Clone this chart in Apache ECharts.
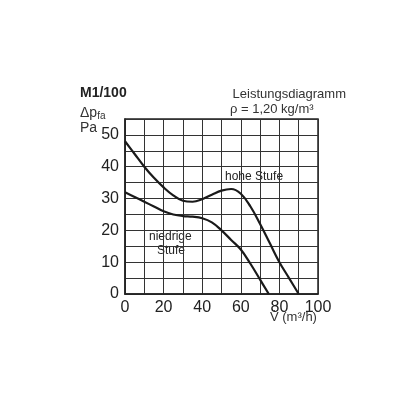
<!DOCTYPE html>
<html><head><meta charset="utf-8">
<script src="https://cdn.jsdelivr.net/npm/echarts@6/dist/echarts.min.js"></script>
<style>body{margin:0;background:#fff}#c{width:416px;height:416px}</style>
</head><body><div id="c"></div>
<script>
// Kennlinien (V in m3/h, dp in Pa)
var hoheX = [0, 5, 10, 15, 20, 25, 30, 35, 40, 45, 50, 55, 60, 65, 70, 75, 80, 85, 90];
var hoheY = [48, 44, 40, 36.5, 33.5, 31, 29.3, 29, 29.8, 31.2, 32.5, 33, 31.5, 27.5, 22, 16, 10, 5, 0];
var niedrigX = [0, 5, 10, 15, 20, 25, 30, 35, 40, 45, 50, 55, 60, 65, 70, 74.5];
var niedrigY = [32, 30.5, 29, 27.5, 26, 25, 24.5, 24.3, 23.8, 22.5, 20, 17, 14, 9.5, 4.5, 0];

function pairs(xs, ys) {
	var out = [];
	for (var i = 0; i < xs.length; i++) out.push([xs[i], ys[i]]);
	return out;
}

var font = "Liberation Sans";
var chart = echarts.init(document.getElementById("c"));
var option = {
	animation: false,
	textStyle: { fontFamily: font },
	grid: { left: 125, top: 119, width: 193, height: 175 },
	xAxis: {
		type: "value", min: 0, max: 100, interval: 10,
		axisLine: { lineStyle: { color: "#222", width: 1.5 } },
		axisTick: { show: false },
		splitLine: { lineStyle: { color: "#333", width: 1 } },
		axisLabel: { color: "#222", fontSize: 16, margin: 6,
			formatter: function (v) { return v % 20 == 0 ? v : ""; } }
	},
	yAxis: {
		type: "value", min: 0, max: 55, interval: 5,
		axisLine: { show: true, lineStyle: { color: "#222", width: 1.5 } },
		axisTick: { show: false },
		splitLine: { lineStyle: { color: "#333", width: 1 } },
		axisLabel: { color: "#222", fontSize: 16, margin: 6,
			formatter: function (v) { return (v % 10 == 0 && v <= 50) ? v : ""; } }
	},
	series: [
		{ type: "line", data: pairs(hoheX, hoheY), smooth: 0.4, symbol: "none",
			lineStyle: { color: "#1a1a1a", width: 2.2 } },
		{ type: "line", data: pairs(niedrigX, niedrigY), smooth: 0.4, symbol: "none",
			lineStyle: { color: "#1a1a1a", width: 2.2 } }
	],
	graphic: [
		{ type: "rect", shape: { x: 125, y: 119, width: 193, height: 175 },
			style: { fill: "none", stroke: "#222", lineWidth: 1.5 }, silent: true },
		{ type: "text", left: 80, top: 86, style: { text: "M1/100", font: "bold 14px " + font, fill: "#222" } },
		{ type: "text", left: 80, top: 106, style: { rich: { a: { font: "14px " + font, fill: "#333" }, s: { font: "10px " + font, fill: "#333", verticalAlign: "bottom", padding: [6, 0, 0, 0] } }, text: "{a|Δp}{s|fa}" } },
		{ type: "text", left: 80, top: 121, style: { text: "Pa", font: "14px " + font, fill: "#333" } },
		{ type: "text", right: 70, top: 88, style: { text: "Leistungsdiagramm", font: "13px " + font, fill: "#333" } },
		{ type: "text", left: 230, top: 103, style: { text: "ρ = 1,20 kg/m³", font: "13px " + font, fill: "#333" } },
		{ type: "text", left: 224, top: 170, style: { text: "hohe Stufe", font: "12px " + font, fill: "#222", backgroundColor: "#fff", padding: [1, 1] } },
		{ type: "text", left: 148, top: 230, style: { text: "niedrige", font: "12px " + font, fill: "#222", backgroundColor: "#fff", padding: [1, 1] } },
		{ type: "text", left: 156, top: 244, style: { text: "Stufe", font: "12px " + font, fill: "#222", backgroundColor: "#fff", padding: [1, 1] } },
		{ type: "text", left: 270, top: 311, style: { text: "V̇ (m³/h)", font: "13px " + font, fill: "#333" } }
	]
};
chart.setOption(option);
</script>
</body></html>
